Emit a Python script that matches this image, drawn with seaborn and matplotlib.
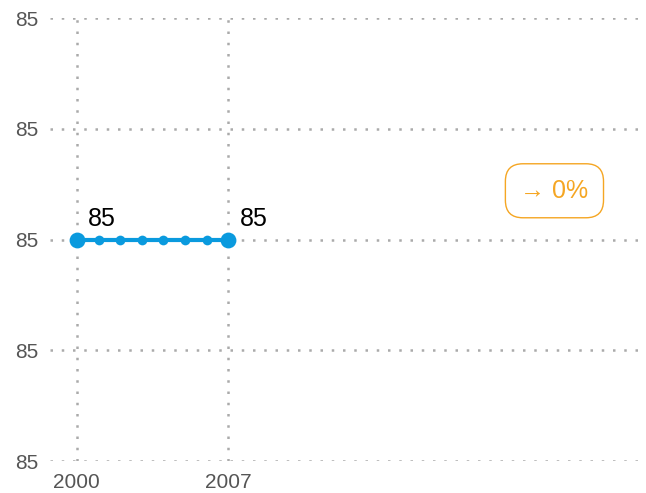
import numpy as np
import pandas as pd
import matplotlib
matplotlib.use("Agg")
import matplotlib.pyplot as plt
import seaborn as sns

years = [2000, 2001, 2002, 2003, 2004, 2005, 2006, 2007]
values = [85, 85, 85, 85, 85, 85, 85, 85]
change_label = "→ 0%"

df = pd.DataFrame({"year": years, "value": values})

sns.set_theme(style="white")
plt.rcParams["font.family"] = ["Liberation Sans", "DejaVu Sans"]

fig = plt.figure(figsize=(6.46, 4.93), dpi=100)
ax = fig.add_axes([50 / 646, 32 / 493, 590 / 646, 443 / 493])

blue = "#0a9ade"
orange = "#f5a623"

sns.lineplot(data=df, x="year", y="value", ax=ax, color=blue, linewidth=3,
             marker="o", markersize=7, markeredgewidth=0, zorder=3)
# bigger markers at the ends
ends = df.iloc[[0, -1]]
sns.scatterplot(data=ends, x="year", y="value", ax=ax, color=blue, s=130,
                linewidth=0, zorder=4)

for _, row in ends.iterrows():
    ax.annotate(f"{row['value']:.0f}", (row["year"], row["value"]),
                xytext=(8, 6), textcoords="offset points",
                fontsize=18, color="black", ha="left", va="bottom")

ax.text(2022.05, 85.0044, change_label, fontsize=18, color=orange,
        ha="center", va="center",
        bbox=dict(boxstyle="round,pad=0.6,rounding_size=0.7", fc="white",
                  ec=orange, lw=1))

yt = [84.98, 84.99, 85.0, 85.01, 85.02]
ax.set_yticks(yt)
ax.set_yticklabels([f"{v:.0f}" for v in yt])
ax.set_ylim(84.98, 85.02)
ax.set_xticks([2000, 2007])
ax.set_xlim(1998.76, 2026.0)

ax.grid(True, color="#aaaaaa", linestyle=(0, (1, 3.5)), linewidth=1.8)
ax.set_axisbelow(True)
for s in ax.spines.values():
    s.set_visible(False)
ax.tick_params(axis="both", length=0, labelsize=15, colors="#555555", pad=8.5)
ax.set_xlabel("")
ax.set_ylabel("")

fig.savefig("out.png", dpi=100)
